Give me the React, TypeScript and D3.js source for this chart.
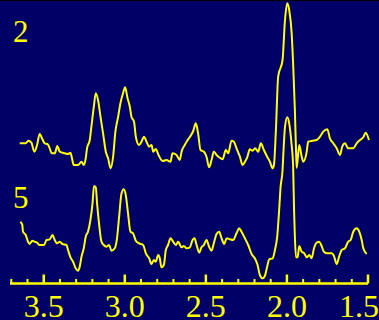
import React from "react";
import * as d3 from "d3";

// chemical shift (ppm), with intensity in arbitrary units
const trace2Ppm = [3.648, 3.611, 3.595, 3.576, 3.558, 3.541, 3.525, 3.508, 3.494, 3.477, 3.463, 3.451, 3.432, 3.416, 3.401, 3.371, 3.350, 3.335, 3.327, 3.315, 3.288, 3.267, 3.253, 3.241, 3.233, 3.216, 3.206, 3.191, 3.179, 3.165, 3.150, 3.134, 3.117, 3.103, 3.087, 3.072, 3.058, 3.041, 3.027, 3.011, 2.998, 2.983, 2.969, 2.959, 2.943, 2.932, 2.912, 2.897, 2.881, 2.866, 2.850, 2.835, 2.825, 2.809, 2.792, 2.767, 2.743, 2.718, 2.706, 2.681, 2.661, 2.650, 2.630, 2.616, 2.599, 2.578, 2.562, 2.548, 2.533, 2.512, 2.496, 2.480, 2.465, 2.451, 2.434, 2.418, 2.397, 2.377, 2.362, 2.342, 2.327, 2.311, 2.290, 2.274, 2.259, 2.245, 2.229, 2.212, 2.196, 2.177, 2.161, 2.142, 2.122, 2.105, 2.088, 2.080, 2.068, 2.054, 2.027, 2.012, 1.998, 1.986, 1.971, 1.961, 1.951, 1.944, 1.940, 1.924, 1.909, 1.899, 1.878, 1.869, 1.842, 1.817, 1.796, 1.776, 1.751, 1.735, 1.714, 1.693, 1.673, 1.659, 1.642, 1.622, 1.591, 1.570, 1.549, 1.529, 1.514, 1.494];
const trace2Int = [6.7, 6.7, 9.3, 7.3, -1.7, 5, 16, 10.7, 6.7, 6, 1.7, -3.3, -3.3, 4, -1.7, -3.3, -4, -2.7, -7.3, -15, -15, -11.7, -15, -8.3, 1.7, 10, 23.3, 43.3, 56.7, 50, 33.3, 16.7, -1.7, -8.3, -18.3, -6.7, 18.3, 33.3, 46.7, 56.7, 62.7, 51.7, 43.3, 33.3, 28.3, 13.3, 5, 8.3, 13.3, 8.3, 3.3, 5, -1.7, 1, -5, -11, -10, -11.7, -3.3, -5, -10, -1.7, 5, 9, 13, 19, 26.7, 16.7, 0, -1.7, -6.7, -17.3, -10, -1.7, -5, -7.3, -9.3, 0, -3.3, 9.3, 8.3, 1.7, -6.7, -15, -11.7, -7.3, 0.7, -0.7, 1.7, -1.7, 6.7, 0, -6.7, -11.7, -18.3, -15, 20, 73.3, 90, 130, 146.7, 140, 117, 83.3, 40, 0, -18, 5, -6.7, -11.7, -1.7, 8.3, 9.3, 10, 13.3, 18.3, 20.7, 11.7, 6.7, 1.7, -5, 3.3, 6.7, 1.7, 1.7, 6.7, 10, 12.7, 17.3, 10];

const trace5Ppm = [3.644, 3.632, 3.628, 3.611, 3.597, 3.587, 3.570, 3.556, 3.541, 3.525, 3.498, 3.483, 3.463, 3.446, 3.432, 3.418, 3.401, 3.385, 3.360, 3.350, 3.335, 3.319, 3.303, 3.288, 3.278, 3.267, 3.253, 3.241, 3.227, 3.212, 3.199, 3.190, 3.179, 3.171, 3.159, 3.144, 3.130, 3.113, 3.097, 3.082, 3.062, 3.048, 3.035, 3.020, 3.006, 2.994, 2.980, 2.965, 2.949, 2.932, 2.912, 2.887, 2.870, 2.850, 2.835, 2.821, 2.809, 2.794, 2.784, 2.774, 2.759, 2.747, 2.733, 2.718, 2.702, 2.685, 2.671, 2.650, 2.636, 2.619, 2.599, 2.582, 2.570, 2.557, 2.541, 2.527, 2.512, 2.496, 2.480, 2.465, 2.451, 2.434, 2.418, 2.403, 2.387, 2.372, 2.352, 2.332, 2.311, 2.295, 2.280, 2.259, 2.239, 2.218, 2.198, 2.181, 2.167, 2.150, 2.136, 2.122, 2.109, 2.088, 2.074, 2.060, 2.048, 2.039, 2.027, 2.023, 2.012, 1.998, 1.986, 1.971, 1.962, 1.956, 1.951, 1.944, 1.934, 1.924, 1.909, 1.893, 1.878, 1.862, 1.848, 1.833, 1.817, 1.801, 1.786, 1.772, 1.751, 1.724, 1.710, 1.693, 1.677, 1.662, 1.642, 1.622, 1.607, 1.591, 1.570, 1.554, 1.539, 1.529, 1.508];
const trace5Int = [23.3, 20, 13.3, 10, 3.3, 1, 4.3, 3.3, 2.3, 0, 0, 5, 5.7, 10, 5, 1.7, 3.3, 1, 0, -5, -12.3, -16.7, -23.3, -25.7, -21.7, -11.7, -3.3, 8.3, 13.3, 25, 41.7, 59, 57.7, 41.7, 21.7, 3.3, 0, -1.7, 0, -5.7, -3.3, 6.7, 28.3, 51.7, 55.7, 50, 31.7, 13.3, 11.7, 4.3, 1.7, 0, -8.3, -13.3, -19, -15, -16.7, -10, -13.3, -22.3, -20, -5, 0, 6.7, 3.3, 0, 3.3, -2.3, -1, -3.3, -2.3, 5, 6.7, 0, -7.7, -2.3, 0, 5, -1.7, -5.7, 1.7, 11, 13.3, 6.7, 1, 6.7, 5.7, 5, 11.7, 16.7, 13.3, 6.7, 0, -9, -13.3, -20, -30, -33.3, -31, -21.7, -14.3, -13.3, -5, 8.3, 35, 58.3, 75, 88, 118, 127.7, 121.7, 100, 80, 35, 8, -12.3, -12.3, -1, -6.7, -8.3, -12.3, -10, -13.3, -3.3, 2.3, 3.3, -1, -6.7, -8.3, -8.3, -11, -19, -11, -5, -3.3, 3.3, 5, 13.3, 16.7, 13.3, 5, -3.3, -9];

const traceLabels = ["2", "5"];
const majorTicks = [3.5, 3.0, 2.5, 2.0, 1.5];
const majorLabels = ["3.5", "3.0", "2.5", "2.0", "1.5"];
const minorTicks = [3.7, 3.6, 3.4, 3.3, 3.2, 3.1, 2.9, 2.8, 2.7, 2.6, 2.4, 2.3, 2.2, 2.1, 1.9, 1.8, 1.7, 1.6];

const width = 379;
const height = 320;
const bg = "#000066";
const fg = "#ffff00";
const font = "'Liberation Serif', 'DejaVu Serif', serif";

export default function App() {
  const x = d3.scaleLinear().domain([3.708, 1.5]).range([10, 368]);
  const axisY = 283.5;

  const traces = [
    { ppm: trace2Ppm, int: trace2Int, base: 150, labelY: 42 },
    { ppm: trace5Ppm, int: trace5Int, base: 245, labelY: 208 },
  ];

  return (
    <svg
      width={width}
      height={height}
      style={{ position: "fixed", left: 0, top: 0, display: "block" }}
    >
      <rect width={width} height={height} fill={bg} />
      <rect width={width} height={1} fill="#000000" />

      {traces.map((t, i) => {
        const y = d3.scaleLinear().domain([0, 100]).range([t.base, t.base - 100]);
        const line = d3
          .line<number>()
          .x((_, j) => x(t.ppm[j]))
          .y((d) => y(d))
          .curve(d3.curveMonotoneX);
        return (
          <g key={i}>
            <path d={line(t.int) || ""} fill="none" stroke={fg} strokeWidth={2} strokeLinejoin="round" />
            <text x={13} y={t.labelY} fill={fg} fontFamily={font} fontSize={31}>
              {traceLabels[i]}
            </text>
          </g>
        );
      })}

      <g className="x-axis">
        <line x1={x.range()[0]} x2={x.range()[1]} y1={axisY} y2={axisY} stroke={fg} strokeWidth={2.5} />
        {minorTicks.map((t) => (
          <line key={"m" + t} x1={x(t)} x2={x(t)} y1={axisY} y2={axisY - 4.5} stroke={fg} strokeWidth={2} />
        ))}
        {majorTicks.map((t, i) => (
          <g key={"M" + t}>
            <line x1={x(t)} x2={x(t)} y1={axisY} y2={axisY - 9} stroke={fg} strokeWidth={2.5} />
            <text
              x={Math.min(x(t), width - 20)}
              y={317}
              fill={fg}
              fontFamily={font}
              fontSize={32}
              textAnchor="middle"
            >
              {majorLabels[i]}
            </text>
          </g>
        ))}
      </g>
    </svg>
  );
}
